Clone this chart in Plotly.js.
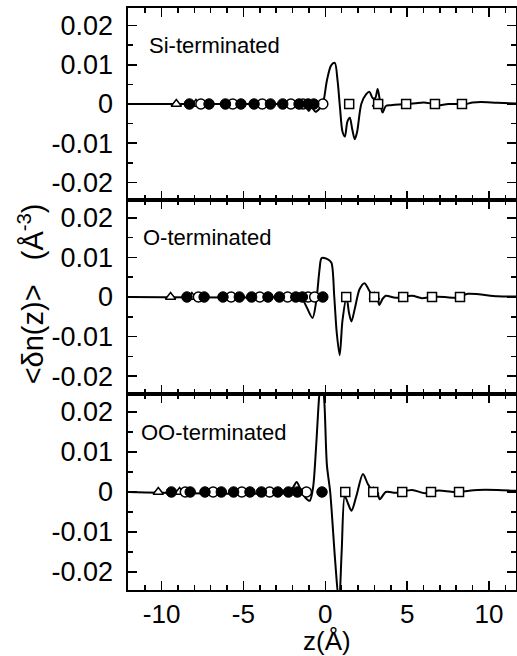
<!DOCTYPE html>
<html><head><meta charset="utf-8">
<script src="https://cdn.plot.ly/plotly-3.0.1.min.js"></script>
<style>html,body{margin:0;padding:0;background:#fff;overflow:hidden}</style>
</head><body><div id="chart" style="width:517px;height:656px"></div>
<script>
// ---- Data ----
const panelLabels = ["Si-terminated", "O-terminated", "OO-terminated"];
const xTickVals = [-10, -5, 0, 5, 10];
const xTickText = ["-10", "-5", "0", "5", "10"];
const yTickVals = [-0.02, -0.01, 0, 0.01, 0.02];
const yTickText = ["-0.02", "-0.01", "0", "0.01", "0.02"];

// Si-terminated curve
const siZ = [-12, -10, -9, -3, -1.5, -1.2, -1.0, -0.85, -0.6, -0.35, -0.15, 0.1, 0.35, 0.58, 0.75, 0.9, 1.05, 1.2, 1.35, 1.5, 1.65, 1.8, 1.95, 2.2, 2.5, 2.7, 2.9, 3.05, 3.2, 3.35, 3.5, 3.7, 4.0, 4.5, 5.0, 5.5, 6.0, 6.5, 7.0, 7.5, 8.0, 8.5, 9.0, 9.5, 10.5, 11.7];
const siN = [0, 0, 0, 0, 0.0001, -0.0006, -0.0018, -0.0007, -0.002, -0.0012, 0, 0.006, 0.0098, 0.0105, 0.006, -0.001, -0.007, -0.0083, -0.0045, -0.0035, -0.0065, -0.009, -0.007, 0.0, 0.0025, 0.0031, 0.0015, 0.0015, 0.0038, 0.0005, -0.0022, -0.0005, -0.0003, -0.0001, 0, 0.0002, 0.0004, 0.0001, -0.0003, 0, 0, -0.0001, 0.0004, 0.0005, 0.0003, 0.0001];
const siFilled = [-8.3, -7.1, -6.1, -5.15, -4.35, -3.35, -2.6, -1.6, -1.05, -0.7];
const siOpen = [-7.6, -5.65, -3.85, -2.1, -1.35, -0.15];
const siTri = [-9.1, -7.9, 3.2];
const siSq = [1.46, 3.23, 4.94, 6.7, 8.35];

// O-terminated curve
const oZ = [-12, -2, -1.5, -1.2, -0.78, -0.55, -0.35, -0.23, 0, 0.2, 0.38, 0.55, 0.7, 0.88, 1.05, 1.3, 1.45, 1.6, 1.8, 2.1, 2.4, 2.7, 3.0, 3.15, 3.3, 3.5, 3.7, 4.3, 5.3, 5.9, 6.5, 7.3, 8.0, 8.7, 10.5, 11.7];
const oN = [0, 0, 0.0002, -0.002, -0.0053, -0.001, 0.007, 0.0098, 0.0098, 0.0094, 0.0086, 0.0, -0.009, -0.0147, -0.006, 0.0, -0.004, -0.0062, -0.003, 0.002, 0.0035, 0.0015, -0.0003, 0.0002, -0.002, -0.0005, 0.0003, -0.0002, 0.0003, -0.0003, 0, 0, -0.0002, 0.0008, 0.0002, 0.0001];
const oFilled = [-8.45, -7.4, -6.25, -5.25, -4.5, -3.5, -2.8, -1.8, -1.4, -0.15];
const oOpen = [-7.75, -5.75, -4.0, -2.3, -1.05, -0.65];
const oTri = [-9.45, -8.15, 3.0];
const oSq = [1.28, 2.99, 4.76, 6.52, 8.23];

// OO-terminated curve
const ooZ = [-12, -2.5, -2.0, -1.75, -1.5, -1.2, -0.95, -0.75, -0.55, -0.35, -0.2, -0.05, 0.1, 0.3, 0.6, 0.84, 1.0, 1.19, 1.4, 1.6, 1.9, 2.3, 2.6, 3.0, 3.15, 3.33, 3.7, 4.3, 5.3, 6.1, 6.9, 7.9, 9.3, 10.5, 11.7];
const ooN = [0, 0, 0.001, 0.0025, 0.0005, -0.0015, -0.0022, 0.001, 0.012, 0.025, 0.029, 0.022, 0.0067, 0, -0.017, -0.028, -0.015, -0.001, -0.003, -0.0047, -0.001, 0.0045, 0.002, -0.0003, 0.0002, -0.0018, 0, -0.0002, 0.0005, -0.0003, 0.0004, 0, 0.0005, 0.0005, 0.0003];
const ooFilled = [-9.4, -8.25, -7.35, -6.35, -5.6, -4.6, -3.9, -2.9, -2.25, -1.7, -0.2];
const ooOpen = [-8.55, -6.85, -5.1, -3.4, -1.15];
const ooTri = [-10.2, -8.9, 2.95];
const ooSq = [1.22, 2.93, 4.7, 6.46, 8.17];

// ---- Build traces ----
const panels = [
  {z: ooZ, n: ooN, filled: ooFilled, open: ooOpen, tri: ooTri, sq: ooSq, xa: 'x', ya: 'y'},
  {z: oZ, n: oN, filled: oFilled, open: oOpen, tri: oTri, sq: oSq, xa: 'x2', ya: 'y2'},
  {z: siZ, n: siN, filled: siFilled, open: siOpen, tri: siTri, sq: siSq, xa: 'x3', ya: 'y3'}
];
const zeros = a => a.map(() => 0);
const traces = [];
panels.forEach(p => {
  traces.push({x: p.z, y: p.n, xaxis: p.xa, yaxis: p.ya, mode: 'lines',
    line: {color: '#000', width: 2, shape: 'spline', smoothing: 0.8}, hoverinfo: 'skip'});
  traces.push({x: p.tri, y: zeros(p.tri), xaxis: p.xa, yaxis: p.ya, mode: 'markers',
    marker: {symbol: 'triangle-up', size: 9, color: '#fff', line: {color: '#000', width: 1.5}}});
  traces.push({x: p.sq, y: zeros(p.sq), xaxis: p.xa, yaxis: p.ya, mode: 'markers',
    marker: {symbol: 'square', size: 9, color: '#fff', line: {color: '#000', width: 1.5}}});
  traces.push({x: p.open, y: zeros(p.open), xaxis: p.xa, yaxis: p.ya, mode: 'markers',
    marker: {symbol: 'circle', size: 10, color: '#fff', line: {color: '#000', width: 1.5}}});
  traces.push({x: p.filled, y: zeros(p.filled), xaxis: p.xa, yaxis: p.ya, mode: 'markers',
    marker: {symbol: 'circle', size: 10.5, color: '#000', line: {color: '#000', width: 1}}});
});

const FONT = 'Liberation Sans, Arial, Helvetica, sans-serif';
function xax(anchor, labels) {
  return {range: [-12.05, 11.65], anchor: anchor, showline: true, linecolor: '#000', linewidth: 1.6,
    mirror: 'allticks', ticks: 'inside', ticklen: 9, tickwidth: 1.5, tickcolor: '#000',
    tickmode: 'array', tickvals: xTickVals, ticktext: xTickText, showticklabels: labels,
    showgrid: false, zeroline: false, fixedrange: true,
    minor: {tickmode: 'linear', tick0: 0, dtick: 1, ticks: 'inside', ticklen: 5, tickwidth: 1.5, tickcolor: '#000', showgrid: false},
    tickfont: {family: FONT, size: 26, color: '#000'}};
}
function yax(anchor, domain) {
  return {range: [-0.0245, 0.0245], anchor: anchor, domain: domain, showline: true, linecolor: '#000', linewidth: 1.6,
    mirror: 'allticks', ticks: 'inside', ticklen: 9, tickwidth: 1.5, tickcolor: '#000',
    tickmode: 'array', tickvals: yTickVals, ticktext: yTickText,
    showgrid: false, zeroline: false, fixedrange: true, ticklabelstandoff: 8,
    minor: {tickmode: 'linear', tick0: 0, dtick: 0.005, ticks: 'inside', ticklen: 5, tickwidth: 1.5, tickcolor: '#000', showgrid: false},
    tickfont: {family: FONT, size: 27, color: '#000'}};
}

const layout = {
  width: 517, height: 656, showlegend: false,
  margin: {l: 128, r: 1, t: 8, b: 66, pad: 0},
  paper_bgcolor: '#fff', plot_bgcolor: '#fff',
  font: {family: FONT, color: '#000'},
  xaxis: xax('y', true),
  xaxis2: xax('y2', false),
  xaxis3: xax('y3', false),
  yaxis: yax('x', [0, 0.3368]),
  yaxis2: yax('x2', [0.3368, 0.6701]),
  yaxis3: yax('x3', [0.6701, 1]),
  annotations: [
    {text: panelLabels[0], xref: 'paper', yref: 'paper', x: 0.049, y: 0.936, xanchor: 'left', yanchor: 'middle', showarrow: false, font: {family: FONT, size: 22, color: '#000'}},
    {text: panelLabels[1], xref: 'paper', yref: 'paper', x: 0.033, y: 0.605, xanchor: 'left', yanchor: 'middle', showarrow: false, font: {family: FONT, size: 22, color: '#000'}},
    {text: panelLabels[2], xref: 'paper', yref: 'paper', x: 0.028, y: 0.270, xanchor: 'left', yanchor: 'middle', showarrow: false, font: {family: FONT, size: 22, color: '#000'}},
    {text: 'z(Å)', xref: 'paper', yref: 'paper', x: 0.513, y: -0.088, xanchor: 'center', yanchor: 'middle', showarrow: false, font: {family: FONT, size: 26, color: '#000'}},
    {text: '&lt;δn(z)&gt;   (Å<sup>-3</sup>)', xref: 'paper', yref: 'paper', x: -0.25, y: 0.508, xanchor: 'center', yanchor: 'middle', textangle: -90, showarrow: false, font: {family: FONT, size: 29, color: '#000'}}
  ]
};

Plotly.newPlot('chart', traces, layout, {displayModeBar: false, staticPlot: true});
</script></body></html>
